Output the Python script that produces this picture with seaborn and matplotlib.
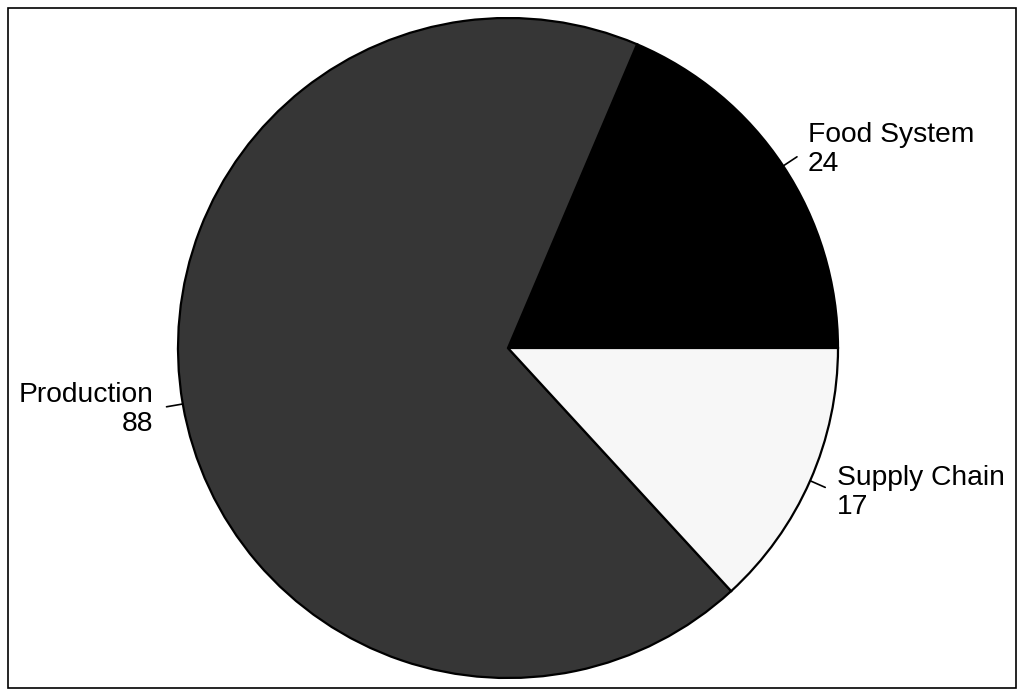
import numpy as np
import matplotlib
matplotlib.use("Agg")
import matplotlib.pyplot as plt
from matplotlib.patches import Rectangle
import seaborn as sns

# Data
categories = ["Food System", "Production", "Supply Chain"]
counts = [24, 88, 17]
slice_colors = ["#000000", "#363636", "#f7f7f7"]

sns.set_theme(style="white")
plt.rcParams["font.family"] = ["Liberation Sans", "DejaVu Sans"]

fig = plt.figure(figsize=(10.24, 7), dpi=100)
# square axes: radius 330 px, centre at (508, 348) from top-left
ax = fig.add_axes([(508 - 330) / 1024, (700 - 348 - 330) / 700, 660 / 1024, 660 / 700])

wedges, _ = ax.pie(counts, colors=sns.color_palette(slice_colors), startangle=0,
                   counterclock=True, radius=1.0,
                   wedgeprops=dict(edgecolor="black", linewidth=1.6))
ax.set_xlim(-1, 1)
ax.set_ylim(-1, 1)
ax.set_aspect("equal")
ax.axis("off")

# Leader lines + labels
for w, name, val in zip(wedges, categories, counts):
    ang = np.deg2rad((w.theta1 + w.theta2) / 2)
    c, s = np.cos(ang), np.sin(ang)
    ax.plot([1.0 * c, 1.05 * c], [1.0 * s, 1.05 * s], color="black", lw=1.2, clip_on=False)
    ha = "left" if c >= 0 else "right"
    ax.text(1.09 * c, 1.09 * s, f"{name}\n{val}", ha=ha, va="center",
            fontsize=20.3, linespacing=1.15, color="black",
            multialignment=ha)

# Outer frame
fig.patches.append(Rectangle((8 / 1024, 12 / 700), 1008 / 1024, 680 / 700,
                             transform=fig.transFigure, fill=False,
                             edgecolor="black", linewidth=1.2))

fig.savefig("out.png", dpi=100)
